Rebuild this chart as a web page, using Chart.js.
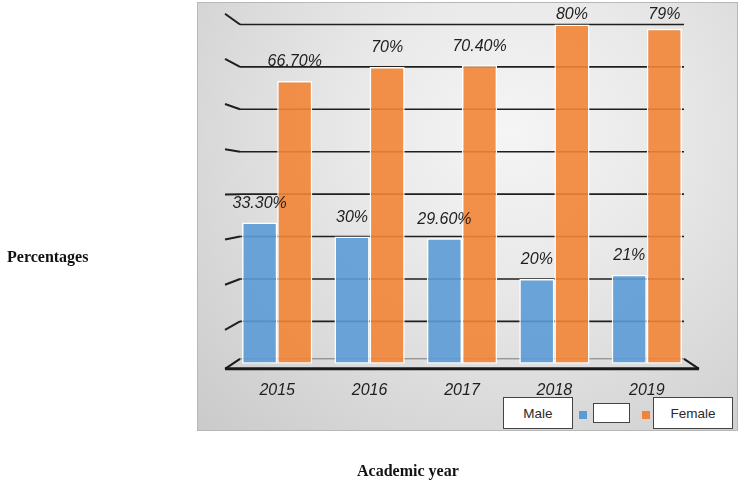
<!DOCTYPE html>
<html>
<head>
<meta charset="utf-8">
<script src="https://cdn.jsdelivr.net/npm/chart.js@4.4.1/dist/chart.umd.min.js"></script>
<style>
  body { margin: 0; background: #fff; width: 739px; height: 484px; overflow: hidden; position: relative; }
  #panel {
    position: absolute; left: 197px; top: 2px; width: 539px; height: 427px;
    border: 1px solid #b8b8b8;
    background: radial-gradient(ellipse at 58% 30%, #f5f5f5 0%, #e9e9e9 35%, #d6d6d6 75%, #cacaca 100%);
  }
  #wrap { position: absolute; left: 0; top: 0; width: 739px; height: 484px; }
  .axisTitle { position: absolute; font-family: "Liberation Serif", serif; font-weight: bold; font-size: 16px; color: #111; }
  .box { position: absolute; background: #fff; border: 1.5px solid #444; font-family: "Liberation Sans", sans-serif;
         font-size: 13.5px; color: #2a2a2a; display: flex; align-items: center; justify-content: center; box-sizing: border-box; }
  .sq { position: absolute; width: 8px; height: 8px; }
</style>
</head>
<body>
<div id="panel"></div>
<div id="wrap"><canvas id="grafico" width="739" height="484"></canvas></div>

<div class="axisTitle" style="left:7px; top:248px;">Percentages</div>
<div class="axisTitle" style="left:357px; top:462px;">Academic year</div>

<div class="box" style="left:503px; top:397px; width:70px; height:32px;">Male</div>
<div class="sq" style="left:579px; top:411px; background:#5B9BD5;"></div>
<div class="box" style="left:593px; top:403px; width:37px; height:20px;"></div>
<div class="sq" style="left:642px; top:411px; background:#F08536;"></div>
<div class="box" style="left:653px; top:397px; width:80px; height:32px;">Female</div>

<script>
// dados do gráfico
const anos = ['2015', '2016', '2017', '2018', '2019'];
const masculino = [33.3, 30, 29.6, 20, 21];
const feminino = [66.7, 70, 70.4, 80, 79];
const marcasY = [0, 10, 20, 30, 40, 50, 60, 70, 80];

function formata(v) {
    return Number.isInteger(v) ? v + '%' : v.toFixed(2) + '%';
}

// linhas de grade em "3D" com o piso
const gradePlugin = {
    id: 'grade3d',
    beforeDatasetsDraw(chart) {
        const ctx = chart.ctx;
        const area = chart.chartArea;
        const y = chart.scales.y;
        const esq = area.left + 9;
        const dir = area.right - 9;
        ctx.save();
        marcasY.forEach(v => {
            if (v === 0) return;
            const py = y.getPixelForValue(v);
            const off = (py - 190) * 0.065;
            ctx.strokeStyle = '#1f1f1f';
            ctx.lineWidth = 1.6;
            ctx.beginPath();
            ctx.moveTo(esq, py);
            ctx.lineTo(dir, py);
            ctx.stroke();
            ctx.lineWidth = 2;
            ctx.beginPath();
            ctx.moveTo(area.left - 6, py + off);
            ctx.lineTo(esq, py);
            ctx.stroke();
        });
        // piso
        const p0 = y.getPixelForValue(0);
        ctx.strokeStyle = '#7a7a7a';
        ctx.lineWidth = 1;
        ctx.beginPath();
        ctx.moveTo(esq, p0 - 5);
        ctx.lineTo(dir, p0 - 5);
        ctx.stroke();
        ctx.strokeStyle = '#1a1a1a';
        ctx.lineWidth = 2;
        ctx.beginPath();
        ctx.moveTo(esq, p0 - 5);
        ctx.lineTo(area.left - 6, p0 + 5);
        ctx.moveTo(dir, p0 - 5);
        ctx.lineTo(area.right + 6, p0 + 5);
        ctx.stroke();
        ctx.lineWidth = 3;
        ctx.beginPath();
        ctx.moveTo(area.left - 6, p0 + 5);
        ctx.lineTo(area.right + 6, p0 + 5);
        ctx.stroke();
        ctx.restore();
    }
};

// rótulos acima das barras
const rotulosPlugin = {
    id: 'rotulos',
    afterDatasetsDraw(chart) {
        const ctx = chart.ctx;
        ctx.save();
        ctx.font = 'italic 16px "Liberation Sans", sans-serif';
        ctx.fillStyle = '#1e1e1e';
        ctx.textAlign = 'center';
        ctx.textBaseline = 'middle';
        chart.data.datasets.forEach((ds, i) => {
            chart.getDatasetMeta(i).data.forEach((bar, j) => {
                const py = Math.max(bar.y - 19, 15);
                ctx.fillText(formata(ds.data[j]), bar.x, py);
            });
        });
        ctx.restore();
    }
};

var ctx = document.getElementById('grafico').getContext('2d');
var chart = new Chart(ctx, {
    type: 'bar',
    data: {
        labels: anos,
        datasets: [{
            label: 'Male',
            data: masculino,
            backgroundColor: 'rgba(91,155,213,0.9)',
            borderColor: '#ffffff',
            borderWidth: 1.5,
            borderSkipped: false
        }, {
            label: 'Female',
            data: feminino,
            backgroundColor: 'rgba(242,133,54,0.9)',
            borderColor: '#ffffff',
            borderWidth: 1.5,
            borderSkipped: false
        }]
    },
    options: {
        responsive: false,
        animation: false,
        layout: { padding: { left: 231, right: 46, top: 16, bottom: 75 } },
        categoryPercentage: 0.76,
        barPercentage: 1.0,
        plugins: {
            legend: { display: false },
            tooltip: { enabled: false }
        },
        scales: {
            y: {
                display: false,
                min: 0,
                max: 82
            },
            x: {
                grid: { display: false },
                border: { display: false },
                ticks: {
                    color: '#1e1e1e',
                    padding: 9,
                    font: { family: 'Liberation Sans', size: 16, style: 'italic' }
                }
            }
        }
    },
    plugins: [gradePlugin, rotulosPlugin]
});
</script>
</body>
</html>
